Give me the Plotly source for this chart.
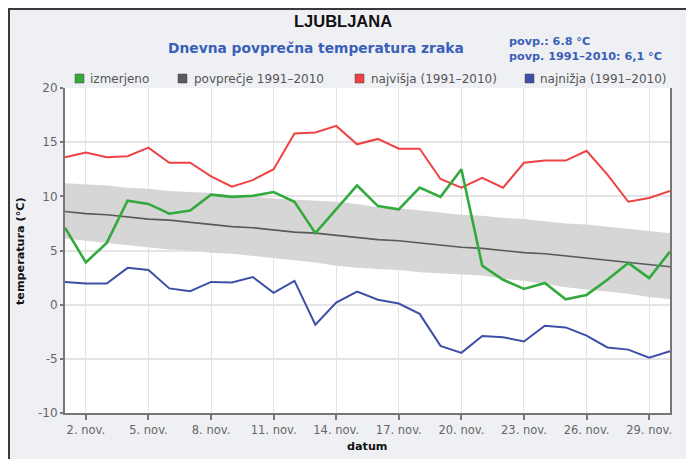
import plotly.graph_objects as go

# ---------------- data ----------------
days = [1, 2, 3, 4, 5, 6, 7, 8, 9, 10, 11, 12, 13, 14, 15,
        16, 17, 18, 19, 20, 21, 22, 23, 24, 25, 26, 27, 28, 29, 30]

izmerjeno = [7.1, 3.9, 5.7, 9.6, 9.3, 8.4, 8.7, 10.15, 9.95, 10.05, 10.4, 9.5, 6.6, 8.8, 11.0,
             9.1, 8.8, 10.8, 9.95, 12.5, 3.6, 2.3, 1.45, 2.0, 0.5, 0.9, 2.3, 3.85, 2.45, 4.9]

povprecje = [8.6, 8.4, 8.3, 8.1, 7.9, 7.8, 7.6, 7.4, 7.2, 7.1, 6.9, 6.7, 6.6, 6.4, 6.2,
             6.0, 5.9, 5.7, 5.5, 5.3, 5.2, 5.0, 4.8, 4.7, 4.5, 4.3, 4.1, 3.9, 3.7, 3.5]

pas_zgoraj = [11.2, 11.1, 11.0, 10.8, 10.7, 10.5, 10.4, 10.3, 10.1, 10.0, 9.8, 9.7, 9.6, 9.5, 9.3,
              9.0, 8.9, 8.7, 8.5, 8.3, 8.2, 8.0, 7.9, 7.7, 7.5, 7.4, 7.2, 7.0, 6.8, 6.6]

pas_spodaj = [6.1, 5.9, 5.7, 5.5, 5.3, 5.1, 5.0, 4.8, 4.7, 4.5, 4.3, 4.1, 3.9, 3.6, 3.4,
              3.3, 3.2, 3.0, 2.9, 2.8, 2.7, 2.4, 2.2, 1.9, 1.6, 1.4, 1.2, 1.0, 0.7, 0.5]

najvisja = [13.6, 14.05, 13.6, 13.7, 14.5, 13.1, 13.1, 11.85, 10.9, 11.5, 12.5, 15.8, 15.9, 16.5, 14.8,
            15.3, 14.4, 14.4, 11.6, 10.8, 11.7, 10.8, 13.1, 13.3, 13.3, 14.2, 12.0, 9.5, 9.85, 10.5]

najnizja = [2.1, 1.95, 1.95, 3.4, 3.2, 1.5, 1.25, 2.1, 2.05, 2.55, 1.1, 2.2, -1.85, 0.2, 1.2,
            0.45, 0.1, -0.85, -3.8, -4.45, -2.9, -3.0, -3.4, -1.95, -2.1, -2.85, -3.95, -4.15, -4.9, -4.3]

x_tickvals = [2, 5, 8, 11, 14, 17, 20, 23, 26, 29]
x_ticktext = ["2. nov.", "5. nov.", "8. nov.", "11. nov.", "14. nov.",
              "17. nov.", "20. nov.", "23. nov.", "26. nov.", "29. nov."]
y_tickvals = [-10, -5, 0, 5, 10, 15, 20]
y_ticktext = ["-10", "-5", "0", "5", "10", "15", "20"]

legend_names = ["izmerjeno", "povprečje 1991–2010", "najvišja (1991–2010)", "najnižja (1991–2010)"]

# ---------------- style ----------------
# the page body has an 8px margin, so the figure starts at page (8, 8)
OFF = 8
W, H = 694 - OFF, 459 - OFF
L, R, T, B = 65 - OFF, 24, 88 - OFF, 46
PW, PH = W - L - R, H - T - B
FONT = "DejaVu Sans, Verdana, sans-serif"
FONT_TITLE = "Liberation Sans, Arial, sans-serif"

C_GREEN = "#33aa3e"
C_MEAN = "#5a5a5a"
C_RED = "#ef4343"
C_BLUE = "#3f4ea6"
C_BAND = "#d6d6d6"
C_TITLE_BLUE = "#3a5fb8"


def px(xp):  # page pixel x -> paper
    return (xp - OFF - L) / PW


def py(yp):  # page pixel y -> paper
    return (H - B - (yp - OFF)) / PH


fig = go.Figure()

fig.add_trace(go.Scatter(x=days, y=pas_spodaj, mode="lines", line=dict(width=0, color=C_BAND),
                         showlegend=False, hoverinfo="skip"))
fig.add_trace(go.Scatter(x=days, y=pas_zgoraj, mode="lines", line=dict(width=0, color=C_BAND),
                         fill="tonexty", fillcolor=C_BAND, showlegend=False, hoverinfo="skip"))
fig.add_trace(go.Scatter(x=days, y=povprecje, mode="lines", line=dict(width=1.6, color=C_MEAN),
                         name=legend_names[1], showlegend=False))
fig.add_trace(go.Scatter(x=days, y=najvisja, mode="lines", line=dict(width=2, color=C_RED),
                         name=legend_names[2], showlegend=False))
fig.add_trace(go.Scatter(x=days, y=najnizja, mode="lines", line=dict(width=2, color=C_BLUE),
                         name=legend_names[3], showlegend=False))
fig.add_trace(go.Scatter(x=days, y=izmerjeno, mode="lines", line=dict(width=2.6, color=C_GREEN),
                         name=legend_names[0], showlegend=False))

shapes = [
    # chart frame background
    dict(type="rect", xref="paper", yref="paper", x0=px(8), x1=px(687), y0=py(470), y1=py(8),
         fillcolor="#eef0f4", line=dict(width=0), layer="below"),
    dict(type="line", xref="paper", yref="paper", x0=px(8), x1=px(690), y0=py(9), y1=py(9),
         line=dict(color="#3a3a3a", width=2), layer="below"),
    dict(type="line", xref="paper", yref="paper", x0=px(9), x1=px(9), y0=py(470), y1=py(8),
         line=dict(color="#3a3a3a", width=2), layer="below"),
    # plot area white
    dict(type="rect", xref="paper", yref="paper", x0=0, x1=1, y0=0, y1=1,
         fillcolor="white", line=dict(width=0), layer="below"),
]

annotations = [
    dict(text="<b>LJUBLJANA</b>", x=px(343), y=py(21), xref="paper", yref="paper",
         showarrow=False, xanchor="center", yanchor="middle",
         font=dict(family=FONT_TITLE, size=16.5, color="#111111")),
    dict(text="<b>Dnevna povprečna temperatura zraka</b>", x=px(316), y=py(48), xref="paper", yref="paper",
         showarrow=False, xanchor="center", yanchor="middle",
         font=dict(family=FONT, size=13.8, color=C_TITLE_BLUE)),
    dict(text="<b>povp.: 6.8 °C</b>", x=px(507), y=py(42), xref="paper", yref="paper",
         showarrow=False, xanchor="left", yanchor="middle",
         font=dict(family=FONT, size=11.2, color=C_TITLE_BLUE)),
    dict(text="<b>povp. 1991–2010: 6,1 °C</b>", x=px(507), y=py(57), xref="paper", yref="paper",
         showarrow=False, xanchor="left", yanchor="middle",
         font=dict(family=FONT, size=11.2, color=C_TITLE_BLUE)),
    dict(text="<b>temperatura (°C)</b>", x=px(21), y=py(251), xref="paper", yref="paper",
         showarrow=False, xanchor="center", yanchor="middle", textangle=-90,
         font=dict(family=FONT, size=11.2, color="#111111")),
    dict(text="<b>datum</b>", x=px(367), y=py(446), xref="paper", yref="paper",
         showarrow=False, xanchor="center", yanchor="middle",
         font=dict(family=FONT, size=11.2, color="#111111")),
]

legend_sq_x = [75, 178, 355, 525]
legend_txt_x = [88, 192, 369, 538]
legend_cols = [C_GREEN, C_MEAN, C_RED, C_BLUE]
for sx, tx, col, name in zip(legend_sq_x, legend_txt_x, legend_cols, legend_names):
    shapes.append(dict(type="rect", xref="paper", yref="paper", x0=px(sx), x1=px(sx + 9),
                       y0=py(83), y1=py(74), fillcolor=col, line=dict(width=0.5, color="#444444")))
    annotations.append(dict(text=name, x=px(tx), y=py(78.5), xref="paper", yref="paper",
                            showarrow=False, xanchor="left", yanchor="middle",
                            font=dict(family=FONT, size=12, color="#555555")))

fig.update_layout(
    width=W, height=H,
    margin=dict(l=L, r=R, t=T, b=B, pad=0),
    paper_bgcolor="white",
    plot_bgcolor="white",
    showlegend=False,
    shapes=shapes,
    annotations=annotations,
    font=dict(family=FONT, size=11.5, color="#666666"),
    xaxis=dict(range=[1, 30], tickmode="array", tickvals=x_tickvals, ticktext=x_ticktext,
               showgrid=True, gridcolor="#e4e4e4", gridwidth=1,
               showline=True, linecolor="#777777", linewidth=2,
               ticks="outside", ticklen=5, tickwidth=1.5, tickcolor="#777777",
               tickfont=dict(family=FONT, size=11.5, color="#666666"),
               zeroline=False, fixedrange=True),
    yaxis=dict(range=[-10, 20], tickmode="array", tickvals=y_tickvals, ticktext=y_ticktext,
               showgrid=True, gridcolor="#e4e4e4", gridwidth=1.5,
               showline=True, linecolor="#777777", linewidth=2, mirror=True,
               ticks="outside", ticklen=3, tickwidth=1.5, tickcolor="#777777",
               tickfont=dict(family=FONT, size=12, color="#666666"),
               zeroline=False, fixedrange=True),
)

fig.write_html("out.html")
